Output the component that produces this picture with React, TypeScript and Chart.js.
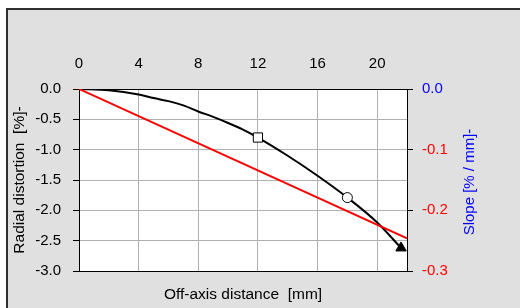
import React, { useEffect, useRef } from "react";
import { Chart, registerables } from "chart.js";

Chart.register(...registerables);

// ---- data ----
const distX = [0, 2, 4, 5, 6, 7, 8, 9, 10, 11, 12, 14, 16, 18, 20, 21.6];
const distortion = [0, -0.02, -0.09, -0.15, -0.2, -0.27, -0.37, -0.46, -0.56, -0.67, -0.8, -1.1, -1.43, -1.79, -2.2, -2.62];
const slopeX = [0, 22];
const slopeLine = [0, -2.46];
const xTicks = [0, 4, 8, 12, 16, 20];
const yTicks = [-3, -2.5, -2, -1.5, -1, -0.5, 0];
const slopeTicks = [-0.3, -0.2, -0.1, 0];
const markerX = [12, 18, 21.6];
const markerShapes = ["rect", "circle", "triangle"];

const FONT = "'Liberation Sans', Arial, sans-serif";
const BLUE = "#0000ff";
const RED = "#ff0000";
const GRID = "#b0b0b0";

export default function App() {
  const ref = useRef<HTMLCanvasElement | null>(null);
  useEffect(() => {
    const canvas = ref.current;
    if (!canvas) return;
    const bgPlugin = {
      id: "bg",
      beforeDraw(chart: any) {
        const { ctx, chartArea } = chart;
        ctx.save();
        ctx.fillStyle = "#ffffff";
        ctx.fillRect(0, 0, 520, 308);
        ctx.fillStyle = "#e0e0e0";
        ctx.fillRect(6, 8, 514, 300);
        ctx.fillStyle = "#303030";
        ctx.fillRect(6, 8, 2, 300);
        ctx.fillRect(6, 8, 514, 2);
        ctx.fillStyle = "#ffffff";
        ctx.fillRect(chartArea.left, chartArea.top, chartArea.right - chartArea.left, chartArea.bottom - chartArea.top);
        ctx.restore();
      },
      afterDraw(chart: any) {
        const { ctx, chartArea } = chart;
        ctx.save();
        ctx.translate(470, (chartArea.top + chartArea.bottom) / 2 + 2);
        ctx.rotate(-Math.PI / 2);
        ctx.fillStyle = BLUE;
        ctx.font = `15px ${FONT}`;
        ctx.textAlign = "center";
        ctx.textBaseline = "middle";
        ctx.fillText("Slope [% / mm]-", 0, 0);
        ctx.restore();
      },
    };

    const styleFor = (x: number) => {
      const i = markerX.indexOf(x);
      return i >= 0 ? markerShapes[i] : "circle";
    };

    const chart = new Chart(canvas, {
      type: "line",
      data: {
        datasets: [
          {
            data: slopeX.map((x, i) => ({ x, y: slopeLine[i] })),
            borderColor: RED,
            borderWidth: 2,
            pointRadius: 0,
            fill: false,
          },
          {
            data: distX.map((x, i) => ({ x, y: distortion[i] })),
            borderColor: "#000000",
            borderWidth: 2,
            cubicInterpolationMode: "monotone",
            fill: false,
            pointStyle: distX.map(styleFor) as any,
            pointRadius: distX.map((x) => (markerX.indexOf(x) < 0 ? 0 : styleFor(x) === "rect" ? 6.5 : styleFor(x) === "triangle" ? 6 : 5)),
            pointBackgroundColor: distX.map((x) => (styleFor(x) === "triangle" ? "#000000" : "#ffffff")),
            pointBorderColor: "#000000",
            pointBorderWidth: 1,
          },
        ],
      },
      options: {
        animation: false,
        responsive: false,
        events: [],
        layout: { padding: 0 },
        plugins: { legend: { display: false }, tooltip: { enabled: false } },
        scales: {
          x: {
            type: "linear",
            position: "top",
            min: 0,
            max: 22,
            afterBuildTicks: (s: any) => { s.ticks = xTicks.map((v) => ({ value: v })); },
            afterFit: (s: any) => { s.height = 89; },
            ticks: {
              autoSkip: false,
              maxRotation: 0,
              padding: 16,
              color: "#000",
              font: { family: FONT, size: 15 },
              callback: (v: any) => String(v),
            },
            grid: { color: GRID, drawTicks: false, lineWidth: 1 },
            border: { display: true, color: "#000", width: 1 },
          },
          x2: {
            type: "linear",
            position: "bottom",
            min: 0,
            max: 22,
            afterFit: (s: any) => { s.height = 37; },
            ticks: { display: false },
            grid: { display: false },
            border: { display: true, color: "#000", width: 1 },
            title: {
              display: true,
              text: "Off-axis distance  [mm]",
              color: "#000",
              font: { family: FONT, size: 15.5 },
              padding: { top: 0, bottom: 4 },
            },
          },
          y: {
            type: "linear",
            position: "left",
            min: -3,
            max: 0,
            afterBuildTicks: (s: any) => { s.ticks = yTicks.map((v) => ({ value: v })); },
            afterFit: (s: any) => { s.width = 79; },
            ticks: {
              autoSkip: false,
              padding: 12,
              color: "#000",
              font: { family: FONT, size: 15 },
              callback: (v: any) => Number(v).toFixed(1),
            },
            grid: { color: GRID, tickColor: "#000", drawTicks: true, tickLength: 6, lineWidth: 1 },
            border: { display: true, color: "#000", width: 1 },
            title: {
              display: true,
              text: "Radial distortion  [%]-",
              color: "#000",
              font: { family: FONT, size: 15.5 },
              padding: { top: 10, bottom: 0 },
            },
          },
          yR: {
            type: "linear",
            position: "right",
            min: -0.3,
            max: 0,
            afterBuildTicks: (s: any) => { s.ticks = slopeTicks.map((v) => ({ value: v })); },
            afterFit: (s: any) => { s.width = 113; },
            ticks: {
              autoSkip: false,
              padding: 9,
              color: (c: any) => (c.tick && Math.abs(c.tick.value) < 1e-9 ? BLUE : RED),
              font: { family: FONT, size: 15 },
              callback: (v: any) => (Math.abs(Number(v)) < 1e-9 ? "0.0" : Number(v).toFixed(1)),
            },
            grid: { drawOnChartArea: false, tickColor: "#000", drawTicks: true, tickLength: 6 },
            border: { display: true, color: "#000", width: 1 },
          },
        },
      } as any,
      plugins: [bgPlugin],
    });
    return () => chart.destroy();
  }, []);

  return (
    <div style={{ position: "fixed", left: 0, top: 0, width: 520, height: 308 }}>
      <canvas ref={ref} width={520} height={308} style={{ display: "block" }} />
    </div>
  );
}
